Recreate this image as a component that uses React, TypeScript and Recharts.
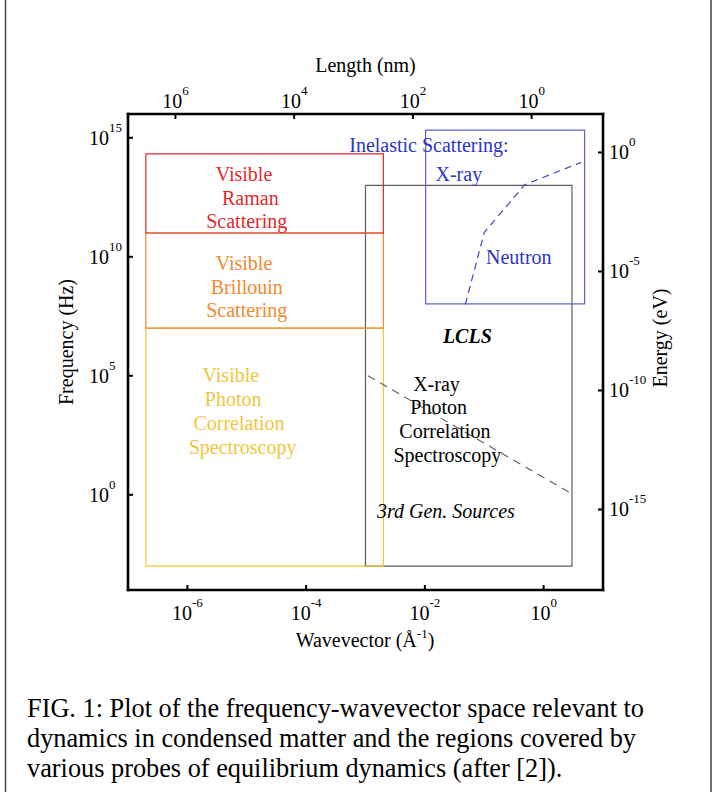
import React from "react";
import { ComposedChart, Line, XAxis, YAxis, ReferenceArea, ReferenceDot } from "recharts";

const serif = "'Liberation Serif', 'Times New Roman', serif";

// axis ranges (wavevector in 1/Å, frequency in Hz)
const qDomain = [1e-7, 10];
const fDomain = [1e-4, 1e16];

// tick values
const qTicks = [1e-6, 1e-4, 1e-2, 1];
const fTicks = [1, 1e5, 1e10, 1e15];
const lengthTicks = [1e6, 1e4, 1e2, 1];
const energyTicks = [1, 1e-5, 1e-10, 1e-15];

// secondary axis conversions
const LEN_NM = 0.2 * Math.PI; // length (nm) = 2π / q
const H_EV = 4.135667e-15; // E (eV) = h f

// probe regions: [qMin, qMax, fMin, fMax]
const ramanBox = [2e-7, 2e-3, 1e11, 2.1e14];
const brillouinBox = [2e-7, 2e-3, 1e7, 1e11];
const pcsBox = [2e-7, 2e-3, 1e-3, 1e7];
const xraySourceBox = [1e-3, 3, 1e-3, 1e13];
const inelasticBox = [1.03e-2, 4.9, 1.05e8, 2.1e15];

// dispersion lines
const neutronQ = [0.048, 0.1, 0.48, 4.3];
const neutronF = [1e8, 1.05e11, 1.07e13, 9.3e13];
const xpcsQ = [1.1e-3, 2.8];
const xpcsF = [1e5, 1.2];

const neutronData = neutronQ.map((q, i) => ({ q, f: neutronF[i] }));
const xpcsData = xpcsQ.map((q, i) => ({ q, f: xpcsF[i] }));

// region labels, anchored in data units
const ramanText = ["Visible", "Raman", "Scattering"];
const ramanQ = [9.0e-6, 1.15e-5, 1.0e-5];
const ramanF = [1.47e13, 1.55e12, 1.67e11];

const brillouinText = ["Visible", "Brillouin", "Scattering"];
const brillouinQ = [9.0e-6, 1.0e-5, 1.0e-5];
const brillouinF = [2.69e9, 2.82e8, 2.85e7];

const pcsText = ["Visible", "Photon", "Correlation", "Spectroscopy"];
const pcsQ = [5.4e-6, 5.9e-6, 7.4e-6, 8.5e-6];
const pcsF = [5.3e4, 5.2e3, 508, 53];

const inelasticText = ["Inelastic Scattering:", "X-ray", "Neutron"];
const inelasticQ = [0.0117, 0.0373, 0.382];
const inelasticF = [2.53e14, 1.47e13, 5.1e9];

const xpcsText = ["X-ray", "Photon", "Correlation", "Spectroscopy"];
const xpcsLabelQ = [0.0157, 0.0171, 0.0217, 0.0239];
const xpcsLabelF = [2.2e4, 2.5e3, 244, 25];

const lclsLabel = { text: "LCLS", q: 0.0519, f: 2.4e6 };
const thirdGenLabel = { text: "3rd Gen. Sources", q: 0.0226, f: 0.11 };

const captionLines = [
  "FIG. 1: Plot of the frequency-wavevector space relevant to",
  "dynamics in condensed matter and the regions covered by",
  "various probes of equilibrium dynamics (after [2]).",
];

const RED = "#e02a2a";
const ORANGE = "#ef8a30";
const YELLOW = "#f2c53a";
const BLUE = "#2b36c8";
const BLUE_BOX = "#5a64d4";
const GRAY = "#5e5e5e";

const PowerTick = (props: any) => {
  const { x, y, payload, side, convert } = props;
  const v = convert ? convert(payload.value) : payload.value;
  const exp = String(Math.round(Math.log10(v)));
  const sup = (
    <tspan dy={-13} fontSize={13}>
      {exp}
    </tspan>
  );
  if (side === "bottom" || side === "top") {
    const dir = side === "bottom" ? -1 : 1;
    const base = side === "bottom" ? y + 30 : y - 6;
    return (
      <g>
        <line x1={x} y1={y} x2={x} y2={y + dir * 5} stroke="#000" strokeWidth={2} />
        <text x={x} y={base} textAnchor="middle" fontFamily={serif} fontSize={20} fill="#000">
          <tspan>10</tspan>
          {sup}
        </text>
      </g>
    );
  }
  const dir = side === "left" ? 1 : -1;
  const tx = side === "left" ? x - 39 : x + 6;
  return (
    <g>
      <line x1={x} y1={y} x2={x + dir * 5} y2={y} stroke="#000" strokeWidth={2} />
      <text x={tx} y={y + 7} textAnchor="start" fontFamily={serif} fontSize={20} fill="#000">
        <tspan>10</tspan>
        {sup}
      </text>
    </g>
  );
};

const axisLine = { stroke: "#000", strokeWidth: 2.6, strokeLinecap: "square" as const };

const makeLabel = (
  text: string,
  q: number,
  f: number,
  color: string,
  key: string,
  extra: { fontStyle?: string; fontWeight?: string } = {}
) => (
  <ReferenceDot
    key={key}
    xAxisId="q"
    yAxisId="f"
    x={q}
    y={f}
    r={0}
    ifOverflow="visible"
    shape={(p: any) => (
      <text
        x={p.cx}
        y={p.cy}
        textAnchor="middle"
        fontFamily={serif}
        fontSize={20}
        fill={color}
        fontStyle={extra.fontStyle}
        fontWeight={extra.fontWeight}
      >
        {text}
      </text>
    )}
  />
);

const boxArea = (box: number[], color: string, key: string) => (
  <ReferenceArea
    key={key}
    xAxisId="q"
    yAxisId="f"
    x1={box[0]}
    x2={box[1]}
    y1={box[2]}
    y2={box[3]}
    fill="none"
    fillOpacity={0}
    stroke={color}
    strokeWidth={1.2}
    ifOverflow="visible"
  />
);

export default function App() {
  return (
    <div style={{ position: "absolute", left: 0, top: 0, width: 716, height: 792, background: "#fff" }}>
      <ComposedChart width={716} height={792} margin={{ top: 54, right: 53, bottom: 142, left: 68 }}>
        <XAxis
          xAxisId="q"
          dataKey="q"
          type="number"
          scale="log"
          domain={qDomain}
          allowDataOverflow
          ticks={qTicks}
          interval={0}
          orientation="bottom"
          height={60}
          tickSize={0}
          tickMargin={0}
          tickLine={false}
          axisLine={axisLine}
          tick={(p: any) => <PowerTick {...p} side="bottom" />}
        />
        {/* top axis shares the wavevector scale; ticks placed where length = 2π/q hits each decade */}
        <XAxis
          xAxisId="len"
          dataKey="q"
          type="number"
          scale="log"
          domain={qDomain}
          allowDataOverflow
          ticks={lengthTicks.map((L) => LEN_NM / L)}
          interval={0}
          orientation="top"
          height={60}
          tickSize={0}
          tickMargin={0}
          tickLine={false}
          axisLine={axisLine}
          tick={(p: any) => <PowerTick {...p} side="top" convert={(q: number) => LEN_NM / q} />}
        />
        <YAxis
          yAxisId="f"
          dataKey="f"
          type="number"
          scale="log"
          domain={fDomain}
          allowDataOverflow
          ticks={fTicks}
          interval={0}
          orientation="left"
          width={60}
          tickSize={0}
          tickMargin={0}
          tickLine={false}
          axisLine={axisLine}
          tick={(p: any) => <PowerTick {...p} side="left" />}
        />
        <YAxis
          yAxisId="E"
          type="number"
          scale="log"
          domain={[H_EV * fDomain[0], H_EV * fDomain[1]]}
          allowDataOverflow
          ticks={energyTicks}
          interval={0}
          orientation="right"
          width={60}
          tickSize={0}
          tickMargin={0}
          tickLine={false}
          axisLine={axisLine}
          tick={(p: any) => <PowerTick {...p} side="right" />}
        />

        {boxArea(xraySourceBox, GRAY, "xray")}
        {boxArea(pcsBox, YELLOW, "pcs")}
        {boxArea(brillouinBox, ORANGE, "brillouin")}
        {boxArea(ramanBox, RED, "raman")}
        {boxArea(inelasticBox, BLUE_BOX, "inelastic")}

        {/* invisible series so the top axis has an attached item */}
        <Line
          xAxisId="len"
          yAxisId="f"
          data={xpcsData}
          dataKey="f"
          type="linear"
          stroke="none"
          dot={false}
          activeDot={false}
          legendType="none"
          isAnimationActive={false}
        />
        <Line
          xAxisId="q"
          yAxisId="f"
          data={neutronData}
          dataKey="f"
          type="linear"
          stroke="#3a48c4"
          strokeWidth={1.2}
          strokeDasharray="7 5"
          dot={false}
          activeDot={false}
          isAnimationActive={false}
        />
        <Line
          xAxisId="q"
          yAxisId="f"
          data={xpcsData}
          dataKey="f"
          type="linear"
          stroke={GRAY}
          strokeWidth={1.1}
          strokeDasharray="8 6"
          dot={false}
          activeDot={false}
          isAnimationActive={false}
        />

        {ramanText.map((t, i) => makeLabel(t, ramanQ[i], ramanF[i], RED, `r${i}`))}
        {brillouinText.map((t, i) => makeLabel(t, brillouinQ[i], brillouinF[i], ORANGE, `b${i}`))}
        {pcsText.map((t, i) => makeLabel(t, pcsQ[i], pcsF[i], YELLOW, `p${i}`))}
        {inelasticText.map((t, i) => makeLabel(t, inelasticQ[i], inelasticF[i], BLUE, `i${i}`))}
        {xpcsText.map((t, i) => makeLabel(t, xpcsLabelQ[i], xpcsLabelF[i], "#000", `x${i}`))}
        {makeLabel(lclsLabel.text, lclsLabel.q, lclsLabel.f, "#000", "lcls", { fontStyle: "italic", fontWeight: "bold" })}
        {makeLabel(thirdGenLabel.text, thirdGenLabel.q, thirdGenLabel.f, "#000", "third", { fontStyle: "italic" })}
      </ComposedChart>

      <svg
        width={716}
        height={792}
        style={{ position: "absolute", left: 0, top: 0, pointerEvents: "none" }}
        fontFamily={serif}
      >
        <line x1={5.5} y1={0} x2={5.5} y2={792} stroke="#444" strokeWidth={1.5} />
        <line x1={711} y1={0} x2={711} y2={792} stroke="#444" strokeWidth={1.5} />
        <text x={365.5} y={72} textAnchor="middle" fontSize={20} fill="#000">
          Length (nm)
        </text>
        <text x={365} y={647} textAnchor="middle" fontSize={20} fill="#000">
          <tspan>Wavevector (Å</tspan>
          <tspan dy={-9} fontSize={13}>-1</tspan>
          <tspan dy={9}>)</tspan>
        </text>
        <text x={73} y={342} textAnchor="middle" fontSize={20} fill="#000" transform="rotate(-90 73 342)">
          Frequency (Hz)
        </text>
        <text x={667} y={338} textAnchor="middle" fontSize={20} fill="#000" transform="rotate(-90 667 338)">
          Energy (eV)
        </text>
        {captionLines.map((line, i) => (
          <text key={i} x={27} y={717 + i * 30} fontSize={26.3} fill="#000">
            {line}
          </text>
        ))}
      </svg>
    </div>
  );
}
